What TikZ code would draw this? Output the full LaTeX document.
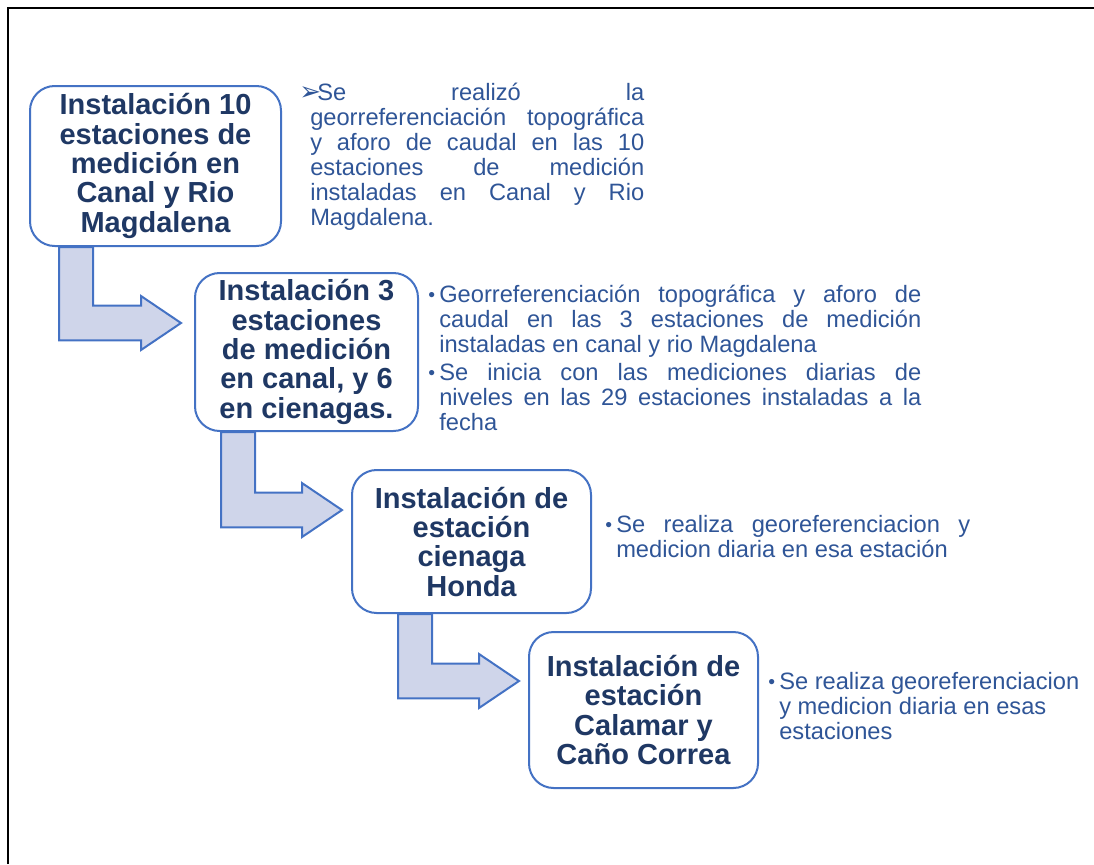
\documentclass[tikz,border=0pt]{standalone}
\usepackage{fontspec}
\setmainfont{Liberation Sans}
\newfontfamily\symfont{DejaVu Sans}
\usepackage{tikz}
\usetikzlibrary{positioning,calc}
\definecolor{boxline}{RGB}{68,114,196}
\definecolor{boxtext}{RGB}{31,56,100}
\definecolor{arrowfill}{RGB}{207,213,234}
\definecolor{notetext}{RGB}{47,85,151}
\newcommand{\vineta}{\llap{\makebox[8.25pt][l]{\raisebox{0.6pt}{\fontsize{14.5}{14.5}\selectfont\textbullet}}}}
% bent arrow: #1 stem top-left, #2 tip
\newcommand{\bentarrow}[2]{%
\draw[bent] let \p1=(#1), \p2=(#2) in
 (\x1,\y1) -- (\x1,\y2-13pt) -- (\x2-30pt,\y2-13pt) -- (\x2-30pt,\y2-20.25pt)
 -- (\x2,\y2) -- (\x2-30pt,\y2+20.25pt) -- (\x2-30pt,\y2+13pt)
 -- (\x1+25.5pt,\y2+13pt) -- (\x1+25.5pt,\y1) -- cycle;}

\begin{document}
\begin{tikzpicture}[x=0.75pt,y=-0.75pt,
etapa/.style={
rectangle,
rounded corners=18.5pt,
draw=boxline,
line width=1.5pt,
fill=white,
text=boxtext,
align=center,
inner sep=0pt,
font=\bfseries\fontsize{21.75}{22}\selectfont
},
nota/.style={anchor=north west,inner sep=0pt,text=notetext,align=justify,
font=\fontsize{17.75}{18.75}\selectfont},
bent/.style={draw=boxline,fill=arrowfill,line width=1.5pt,line join=miter},
]
\useasboundingbox (0,0) rectangle (1094,864);
\draw[line width=1.5pt] (8,864) -- (8,8) -- (1094,8);

\node (b1) [etapa,minimum width=188.25pt,minimum height=120pt] at (155.5,166)
 {Instalación 10\\estaciones de\\medición en\\Canal y Rio\\Magdalena};
\node (b2) [etapa,minimum width=167.25pt,minimum height=118.5pt] at (306.5,352)
 {Instalación 3\\estaciones\\de medición\\en canal, y 6\\en cienagas.};
\node (b3) [etapa,minimum width=179.25pt,minimum height=107.25pt] at (471.5,541.5)
 {Instalación de\\estación\\cienaga\\Honda};
\node (b4) [etapa,minimum width=171.75pt,minimum height=117pt] at (643.5,710)
 {Instalación de\\estación\\Calamar y\\Caño Correa};

\bentarrow{[xshift=22.5pt]b1.south west}{[xshift=-9.75pt,yshift=21.75pt]b2.west}
\bentarrow{[xshift=20.25pt]b2.south west}{[xshift=-6.75pt,yshift=23.6pt]b3.west}
\bentarrow{[xshift=35.25pt]b3.south west}{[xshift=-6.75pt,yshift=21.75pt]b4.west}

\node (t1) [nota,text width=250.5pt] at (310,82.5)
 {\noindent\hspace*{-8.25pt}\makebox[13.5pt][l]{\symfont\fontsize{19.5}{18}\selectfont ➢}Se realizó la\linebreak
 georreferenciación topográfica\linebreak y aforo de caudal en las 10\linebreak
 estaciones de medición\linebreak instaladas en Canal y Rio\linebreak Magdalena.};
\node (t2) [nota,text width=361.5pt] at (439,284.5)
 {\noindent\vineta Georreferenciación topográfica y aforo de\linebreak
 caudal en las 3 estaciones de medición\linebreak instaladas en canal y rio Magdalena\par
 \vspace{2.25pt}\noindent\vineta Se inicia con las mediciones diarias de\linebreak
 niveles en las 29 estaciones instaladas a la\linebreak fecha};
\node (t3) [nota,text width=265.5pt] at (616,515)
 {\noindent\vineta Se realiza georeferenciacion y\linebreak medicion diaria en esa estación};
\node (t4) [nota,align=left] at (779,672)
 {\vineta Se realiza georeferenciacion\\y medicion diaria en esas\\estaciones};
\end{tikzpicture}
\end{document}
